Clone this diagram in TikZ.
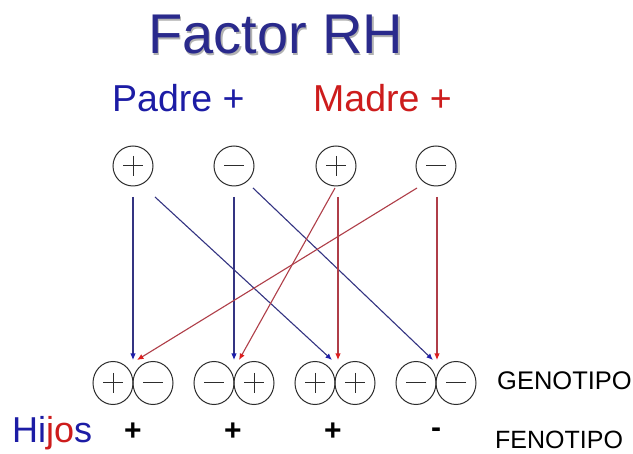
\documentclass[tikz,border=0pt]{standalone}
\usepackage{fontspec}
\setmainfont{Liberation Sans}
\usetikzlibrary{arrows.meta,shapes.geometric,calc}
\definecolor{titleblue}{RGB}{42,42,140}
\definecolor{padreblue}{RGB}{28,28,165}
\definecolor{madrered}{RGB}{205,28,28}
\definecolor{lineblue}{RGB}{52,52,130}
\definecolor{linered}{RGB}{175,62,72}
\definecolor{tipblue}{RGB}{30,30,170}
\definecolor{tipred}{RGB}{220,30,30}
\definecolor{circgray}{RGB}{45,45,45}
\begin{document}
\begin{tikzpicture}[x=1pt,y=-1pt,
  allele/.style={draw=circgray,line width=1pt,circle,minimum size=40pt,inner sep=0pt},
  kid/.style={draw=circgray,line width=1pt,ellipse,minimum width=40pt,minimum height=43pt,inner sep=0pt},
  signplus/.style={path picture={\draw[circgray,line width=1pt]
     ($(path picture bounding box.center)+(-10,0)$) -- ++(20,0)
     ($(path picture bounding box.center)+(0,-10)$) -- ++(0,20);}},
  signminus/.style={path picture={\draw[circgray,line width=1pt]
     ($(path picture bounding box.center)+(-10,0)$) -- ++(20,0);}},
  bluearrow/.style={draw=lineblue,line width=1.1pt,-{Latex[length=6.5pt,width=5.5pt,color=tipblue]}},
  redarrow/.style={draw=linered,line width=1.1pt,-{Latex[length=6.5pt,width=5.5pt,color=tipred]}},
  lbl/.style={anchor=base west,inner sep=0pt}
]
\useasboundingbox[fill=white] (0,0) rectangle (633,454);

% title
\node[lbl,text=black!30,font=\fontsize{56}{60}\selectfont] (titleshadow) at (149.5,55.5) {Factor RH};
\node[lbl,text=titleblue,font=\fontsize{56}{60}\selectfont] (title) at (148,54) {Factor RH};

\node[lbl,text=padreblue,font=\fontsize{37.5}{40}\selectfont] (padre) at (112,112) {Padre +};
\node[lbl,text=madrered,font=\fontsize{37.5}{40}\selectfont] (madre) at (313,112) {Madre +};

% parent alleles
\node[allele,signplus]  (pp) at (133,166) {};
\node[allele,signminus] (pm) at (234,166) {};
\node[allele,signplus]  (mp) at (336,166) {};
\node[allele,signminus] (mm) at (436,166) {};

% children genotypes
\node[kid,signplus]  (k1a) at (113,383) {};
\node[kid,signminus] (k1b) at (153,383) {};
\node[kid,signminus] (k2a) at (214,383) {};
\node[kid,signplus]  (k2b) at (254,383) {};
\node[kid,signplus]  (k3a) at (315,383) {};
\node[kid,signplus]  (k3b) at (355,383) {};
\node[kid,signminus] (k4a) at (416,383) {};
\node[kid,signminus] (k4b) at (456,383) {};

% arrow end points just above each pair
\coordinate (b1) at (133,360); \coordinate (r1) at (137,360);
\coordinate (b2) at (234,360); \coordinate (r2) at (239,360);
\coordinate (b3) at (332,360); \coordinate (r3) at (338,360);
\coordinate (b4) at (433,360); \coordinate (r4) at (437,360);

% father arrows
\draw[bluearrow] ($(pp)+(0,31)$) -- (b1);
\draw[bluearrow] ($(pp)+(22,31)$) -- (b3);
\draw[bluearrow] ($(pm)+(0,31)$) -- (b2);
\draw[bluearrow] ($(pm)+(19,22)$) -- (b4);
% mother arrows
\draw[redarrow] ($(mp)+(-1,22)$) -- (r2);
\draw[redarrow] ($(mp)+(2,31)$) -- (r3);
\draw[redarrow] ($(mm)+(-19,22)$) -- (r1);
\draw[redarrow] ($(mm)+(1,31)$) -- (r4);

% labels
\node[lbl,font=\fontsize{25.5}{28}\selectfont] (geno) at (497,390) {GENOTIPO};
\node[lbl,font=\fontsize{25}{28}\selectfont] (feno) at (495,449) {FENOTIPO};
\node[lbl,font=\fontsize{36}{38}\selectfont] (hijos) at (12,443)
  {\textcolor{padreblue}{Hi}\textcolor{madrered}{jo}\textcolor{padreblue}{s}};

\node[font=\bfseries\fontsize{30}{32}\selectfont,inner sep=0pt] (f1) at (133,432) {+};
\node[font=\bfseries\fontsize{30}{32}\selectfont,inner sep=0pt] (f2) at (233,432) {+};
\node[font=\bfseries\fontsize{30}{32}\selectfont,inner sep=0pt] (f3) at (333,432) {+};
\node[font=\bfseries\fontsize{30}{32}\selectfont,inner sep=0pt] (f4) at (436,433) {-};
\end{tikzpicture}
\end{document}
